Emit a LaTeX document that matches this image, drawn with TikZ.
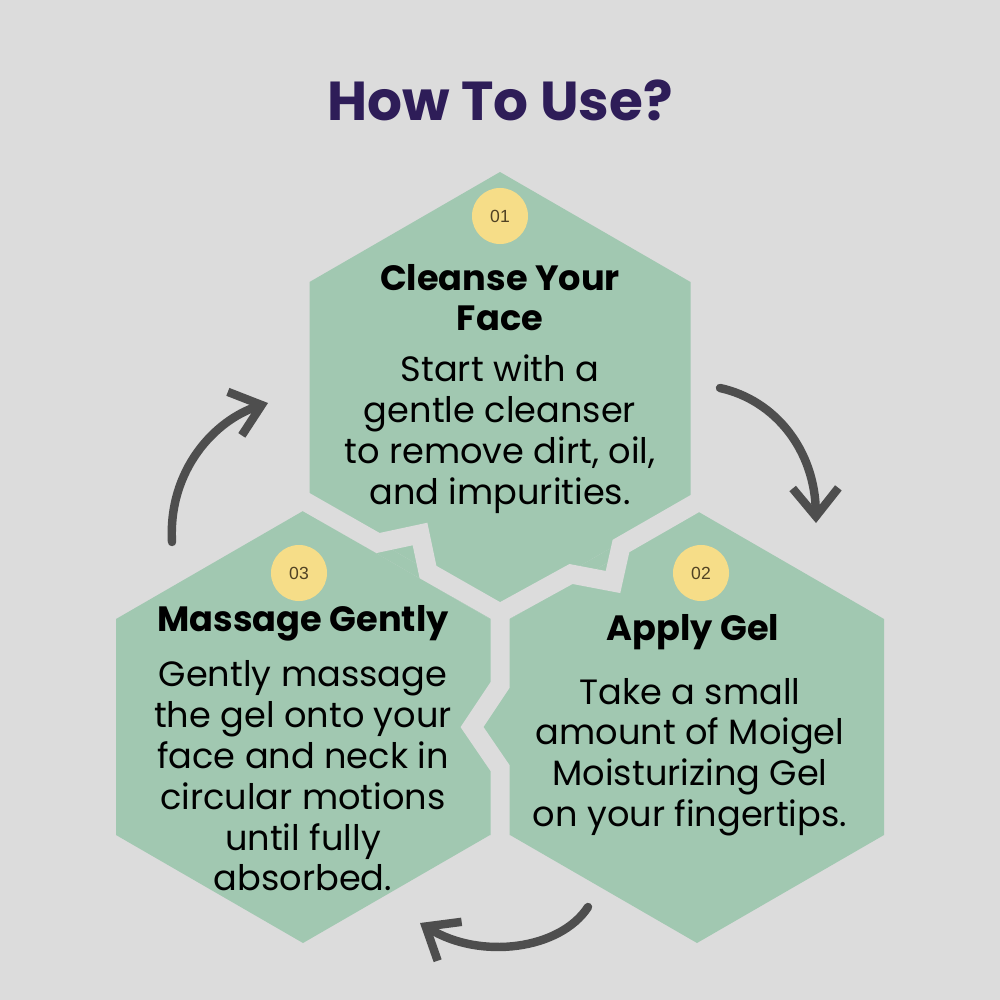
\documentclass[tikz,border=0pt]{standalone}
\usepackage{fontspec}
\setmainfont{Poppins}
\newfontfamily\numfont{Liberation Sans}
\usetikzlibrary{arrows.meta}
\usetikzlibrary{positioning}
\definecolor{bgray}{RGB}{220,220,220}
\definecolor{hexgreen}{RGB}{161,200,177}
\definecolor{numyellow}{RGB}{246,221,136}
\definecolor{numbrown}{RGB}{80,66,36}
\definecolor{titlepurple}{RGB}{46,29,88}
\definecolor{arrowgray}{RGB}{78,78,78}

\begin{document}
\begin{tikzpicture}[x=0.01cm,y=-0.01cm]
	\tikzstyle{hex}=[fill=hexgreen]
	\tikzstyle{gap}=[draw=bgray, line width=0.19cm, line join=miter]
	\tikzstyle{num}=[circle, fill=numyellow, minimum size=0.56cm, inner sep=0pt, text=numbrown, font=\numfont\fontsize{5}{5}\selectfont]
	\tikzstyle{head}=[align=center, font=\bfseries\fontsize{10}{11.4}\selectfont]
	\tikzstyle{body}=[align=center, font=\fontsize{10}{11.6}\selectfont]
	\tikzstyle{turn}=[draw=arrowgray, line width=2.4pt, line cap=round, -{Straight Barb[length=8pt,width=13pt]}]

	\fill[bgray] (0,0) rectangle (1000,1000);

	% hexagons
	\fill[hex] (500,172) -- (690.5,282) -- (690.5,502) -- (500,612) -- (309.5,502) -- (309.5,282) -- cycle;
	\fill[hex] (303,511) -- (490,619) -- (490,835) -- (303,943) -- (116,835) -- (116,619) -- cycle;
	\fill[hex] (697,511) -- (884,619) -- (884,835) -- (697,943) -- (510,835) -- (510,619) -- cycle;
	\fill[hex] (309.5,502) -- (500,612) -- (690.5,502) -- (697,511) -- (510,619) -- (510,835)
		-- (490,835) -- (490,619) -- (303,511) -- cycle;

	% gaps between the hexagons
	\draw[gap] (285,490) -- (378,543) -- (420,534) -- (428,572) -- (500,613)
		-- (571,574) -- (613,582) -- (621,546) -- (715,492);
	\draw[gap] (500,608) -- (500,685) -- (472,727) -- (500,768) -- (500,860);

	\node[font=\bfseries\fontsize{15.6}{18}\selectfont, text=titlepurple] (title) at (500,100) {How To Use?};

	% step 1
	\node[num]  (n1) at (500,216) {01};
	\node[head] (h1) at (500,298) {Cleanse Your\\Face};
	\node[body] (b1) at (500,434) {Start with a\\gentle cleanser\\to remove dirt, oil,\\and impurities.};

	% step 2
	\node[num]  (n2) at (701,573) {02};
	\node[head] (h2) at (693,632) {Apply Gel};
	\node[body] (b2) at (690,757) {Take a small\\amount of Moigel\\Moisturizing Gel\\on your fingertips.};

	% step 3
	\node[num]  (n3) at (299,573) {03};
	\node[head] (h3) at (303,623) {Massage Gently};
	\node[body] (b3) at (303,776) {Gently massage\\the gel onto your\\face and neck in\\circular motions\\until fully\\absorbed.};

	% arrows
	\coordinate (a1) at (720,388);
	\coordinate (a2) at (816,523);
	\coordinate (c1) at (588,907);
	\coordinate (c2) at (420,923);
	\coordinate (d1) at (172,542);
	\coordinate (d2) at (268,403);
	\draw[turn] (a1) .. controls (775,400) and (815,450) .. (a2);
	\draw[turn] (c1) .. controls (560,950) and (480,960) .. (c2);
	\draw[turn] (d1) .. controls (168,470) and (215,420) .. (d2);
\end{tikzpicture}
\end{document}
